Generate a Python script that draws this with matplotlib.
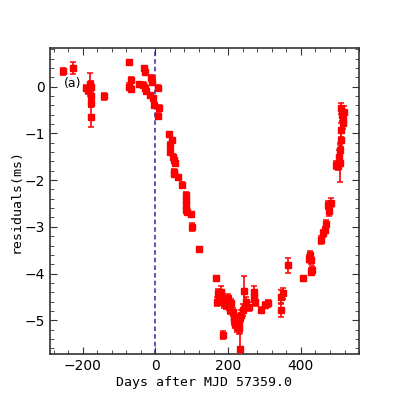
import numpy as np
import matplotlib.pyplot as plt
from matplotlib.ticker import MultipleLocator

# timing residuals
days = [-253, -226, -190, -185, -180, -178, -177, -176, -176, -140,
        -72, -72, -68, -66, -46, -35, -30, -28, -28, -26,
        -15, -12, -9, -6, -3, 6, 9, 6,
        37, 46, 39, 41, 49, 52, 54, 50, 52, 63,
        73, 83, 83, 84, 84, 86, 98, 100, 119,
        167, 172, 176, 181, 169, 185, 190, 195, 199, 202,
        206, 208, 213, 215, 217, 220, 224, 229, 231, 233,
        236, 233, 185, 243, 242, 250, 257, 272, 272, 275,
        291, 300, 309, 346, 350, 346, 364,
        405, 422, 428, 426, 431, 428,
        456, 461, 465, 470, 474, 477, 483,
        497, 502, 511, 514, 516, 511, 509, 508, 506, 508, 516, 518]
resid = [0.33, 0.40, -0.02, -0.08, 0.05, -0.20, -0.35, -0.65, 0.00, -0.21,
         0.53, 0.00, -0.04, 0.14, 0.05, 0.04, 0.39, 0.32, -0.03, -0.09,
         -0.18, 0.18, 0.11, -0.25, -0.39, -0.02, -0.45, -0.63,
         -1.01, -1.14, -1.25, -1.39, -1.50, -1.56, -1.63, -1.82, -1.86, -1.94,
         -2.10, -2.32, -2.43, -2.53, -2.63, -2.68, -2.73, -3.01, -3.47,
         -4.10, -4.42, -4.50, -4.39, -4.60, -4.57, -4.64, -4.67, -4.53, -4.71,
         -4.78, -4.64, -4.82, -4.93, -5.00, -5.07, -5.14, -5.17, -5.03, -4.96,
         -4.89, -5.62, -5.32, -4.37, -4.78, -4.60, -4.71, -4.39, -4.50, -4.60,
         -4.77, -4.67, -4.64, -4.50, -4.42, -4.78, -3.82,
         -4.10, -3.68, -3.71, -3.60, -3.92, -3.96,
         -3.28, -3.14, -3.07, -2.93, -2.53, -2.66, -2.48,
         -1.68, -1.70, -0.46, -0.61, -0.71, -0.93, -1.14, -1.36, -1.50, -1.64, -0.78, -0.54]
err = [0.07, 0.13, 0.06, 0.08, 0.25, 0.06, 0.08, 0.22, 0.12, 0.07,
       0.05, 0.08, 0.05, 0.07, 0.05, 0.05, 0.06, 0.05, 0.06, 0.06,
       0.05, 0.06, 0.05, 0.05, 0.05, 0.06, 0.05, 0.06,
       0.05, 0.05, 0.06, 0.05, 0.06, 0.06, 0.07, 0.05, 0.05, 0.05,
       0.05, 0.06, 0.06, 0.06, 0.06, 0.05, 0.05, 0.09, 0.04,
       0.04, 0.10, 0.10, 0.12, 0.10, 0.09, 0.09, 0.08, 0.10, 0.08,
       0.08, 0.09, 0.08, 0.09, 0.10, 0.10, 0.12, 0.12, 0.12, 0.10,
       0.10, 0.35, 0.08, 0.32, 0.12, 0.10, 0.10, 0.12, 0.10, 0.10,
       0.06, 0.07, 0.08, 0.15, 0.12, 0.15, 0.16,
       0.05, 0.08, 0.08, 0.08, 0.08, 0.08,
       0.08, 0.08, 0.07, 0.08, 0.08, 0.10, 0.10,
       0.08, 0.08, 0.12, 0.12, 0.12, 0.15, 0.15, 0.15, 0.15, 0.40, 0.12, 0.12]

fig = plt.figure(figsize=(3.99, 3.99), dpi=100, facecolor='white')
ax = fig.add_axes([0.125, 0.113, 0.775, 0.767])

ax.axvline(0, color='#2b2ba0', linestyle=(0, (3, 2)), linewidth=1.1, zorder=1)
ax.errorbar(days, resid, yerr=err, fmt='s', color='red', ecolor='red',
            markersize=4, elinewidth=1.2, capsize=2.2, capthick=1.1, zorder=3)

ax.text(-252, 0.06, '(a)', fontsize=9, ha='left', va='center')

ax.set_xlim(-290, 560)
ax.set_ylim(-5.72, 0.83)
ax.xaxis.set_major_locator(MultipleLocator(200))
ax.xaxis.set_minor_locator(MultipleLocator(40))
ax.yaxis.set_major_locator(MultipleLocator(1))
ax.yaxis.set_minor_locator(MultipleLocator(0.2))
ax.tick_params(which='both', direction='in', top=True, right=True,
               labelsize=10, color='#333333')
ax.tick_params(which='major', length=5)
ax.tick_params(which='minor', length=3)
for s in ax.spines.values():
    s.set_color('#333333')
    s.set_linewidth(1.2)

ax.set_xlabel('Days after MJD 57359.0', family='DejaVu Sans Mono', fontsize=9.5, labelpad=2)
ax.set_ylabel('residuals(ms)', family='DejaVu Sans Mono', fontsize=9.5, labelpad=1)

fig.savefig('out.png', dpi=100)
